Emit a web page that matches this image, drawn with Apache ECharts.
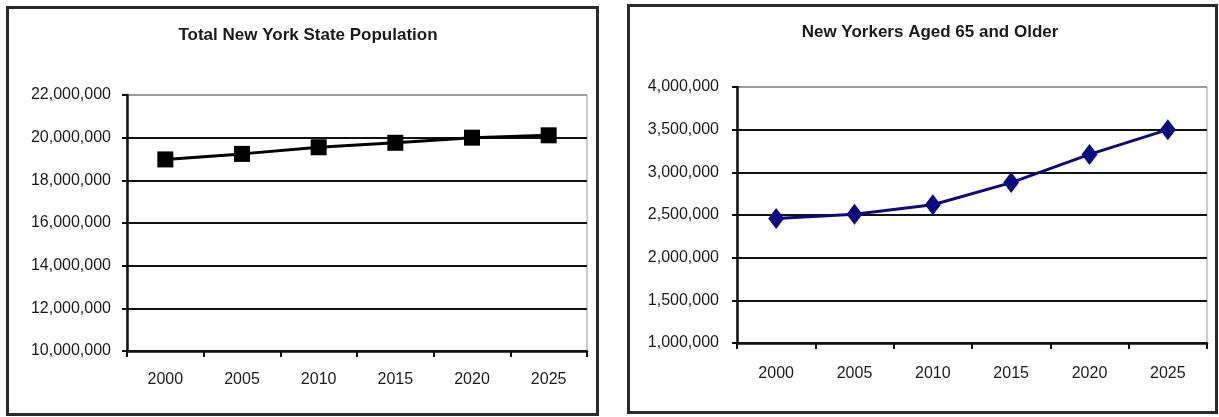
<!DOCTYPE html>
<html>
<head>
<meta charset="utf-8">
<script src="https://cdn.jsdelivr.net/npm/echarts@6/dist/echarts.min.js"></script>
<style>
html,body{margin:0;padding:0;background:#fff;}
#c{width:1219px;height:417px;}
</style>
</head>
<body>
<div id="c"></div>
<script>
var years = ['2000','2005','2010','2015','2020','2025'];
var totalPopulation = [18980000, 19240000, 19550000, 19760000, 20000000, 20110000];
var aged65 = [2460000, 2510000, 2620000, 2880000, 3210000, 3500000];
var titleLeft = 'Total New York State Population';
var titleRight = 'New Yorkers Aged 65 and Older';

function fmt(v){ return String(v).replace(/\B(?=(\d{3})+(?!\d))/g, ','); }

var FONT = '"Liberation Sans", Arial, sans-serif';
var labelStyle = { fontFamily: FONT, fontSize: 16, color: '#1a1a1a' };

function gridColors(n){ var a=[]; for(var i=0;i<n-1;i++) a.push('#111'); a.push('#999'); return a; }

var chart = echarts.init(document.getElementById('c'), null, {renderer:'canvas'});
chart.setOption({
  animation: false,
  backgroundColor: '#fff',
  title: [
    { text: titleLeft, left: 303, top: 22, textAlign: 'center',
      textStyle: { fontFamily: FONT, fontSize: 17, fontWeight: 'bold', color: '#1a1a1a' } },
    { text: titleRight, left: 925, top: 19, textAlign: 'center',
      textStyle: { fontFamily: FONT, fontSize: 17, fontWeight: 'bold', color: '#1a1a1a' } }
  ],
  graphic: [
    { type: 'rect', shape: { x: 7.5, y: 7.5, width: 590, height: 407 }, style: { fill: 'none', stroke: '#2a2a2a', lineWidth: 3 }, z: 100 },
    { type: 'rect', shape: { x: 628.5, y: 5.5, width: 588, height: 407 }, style: { fill: 'none', stroke: '#2a2a2a', lineWidth: 3 }, z: 100 }
  ],
  grid: [
    { left: 127, top: 95, width: 460, height: 256, show: true, borderColor: '#999', borderWidth: 1 },
    { left: 737, top: 87, width: 470, height: 256, show: true, borderColor: '#999', borderWidth: 1 }
  ],
  xAxis: [
    { type: 'category', gridIndex: 0, data: years, boundaryGap: true,
      axisLine: { lineStyle: { color: '#111', width: 2.5 } },
      axisTick: { show: true, length: 6, lineStyle: { color: '#111', width: 2 } },
      axisLabel: Object.assign({ margin: 21 }, labelStyle) },
    { type: 'category', gridIndex: 1, data: years, boundaryGap: true,
      axisLine: { lineStyle: { color: '#111', width: 2.5 } },
      axisTick: { show: true, length: 6, lineStyle: { color: '#111', width: 2 } },
      axisLabel: Object.assign({ margin: 23 }, labelStyle) }
  ],
  yAxis: [
    { type: 'value', gridIndex: 0, min: 10000000, max: 22000000, interval: 2000000,
      axisLine: { show: true, lineStyle: { color: '#111', width: 2.5 } },
      axisTick: { show: true, length: 5, lineStyle: { color: '#111', width: 2 } },
      splitLine: { show: true, lineStyle: { color: gridColors(7), width: 2.2 } },
      axisLabel: Object.assign({ margin: 16, formatter: fmt }, labelStyle) },
    { type: 'value', gridIndex: 1, min: 1000000, max: 4000000, interval: 500000,
      axisLine: { show: true, lineStyle: { color: '#111', width: 2.5 } },
      axisTick: { show: true, length: 5, lineStyle: { color: '#111', width: 2 } },
      splitLine: { show: true, lineStyle: { color: gridColors(7), width: 2.2 } },
      axisLabel: Object.assign({ margin: 18, formatter: fmt }, labelStyle) }
  ],
  series: [
    { type: 'line', xAxisIndex: 0, yAxisIndex: 0, data: totalPopulation,
      symbol: 'rect', symbolSize: 16, showAllSymbol: true,
      lineStyle: { color: '#000', width: 3 },
      itemStyle: { color: '#000', borderWidth: 0 }, z: 5 },
    { type: 'line', xAxisIndex: 1, yAxisIndex: 1, data: aged65,
      symbol: 'diamond', symbolSize: [16, 21], showAllSymbol: true,
      lineStyle: { color: '#0b0b80', width: 3 },
      itemStyle: { color: '#0b0b80', borderWidth: 0 }, z: 5 }
  ]
});
</script>
</body>
</html>
